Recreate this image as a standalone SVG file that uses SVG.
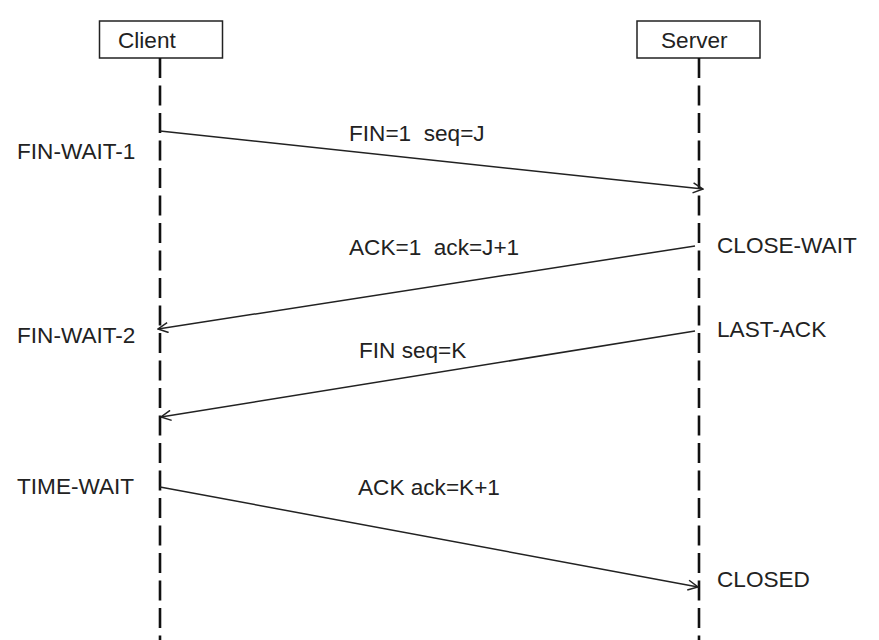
<svg xmlns="http://www.w3.org/2000/svg" width="879" height="640" viewBox="0 0 879 640">
<style>
text{font-family:"Liberation Sans",Arial,sans-serif;font-size:22.6px;fill:#222;white-space:pre}
.box{fill:#fff;stroke:#222;stroke-width:1.5}
.life{stroke:#111;stroke-width:2.6;stroke-dasharray:20 7.5;fill:none}
.msg{stroke:#222;stroke-width:1.5;fill:none;marker-end:url(#arr)}
</style>
<defs>
<marker id="arr" viewBox="0 0 12 12" refX="11" refY="6" markerWidth="12" markerHeight="12" markerUnits="userSpaceOnUse" orient="auto">
<path d="M1,1 L11,6 L1,11" fill="none" stroke="#222" stroke-width="1.5"/>
</marker>
</defs>
<rect width="879" height="640" fill="#fff"/>
<g id="client">
<rect class="box" x="99.5" y="21" width="123" height="37"/>
<text x="118" y="48">Client</text>
<line class="life" x1="160" y1="58" x2="160" y2="640"/>
</g>
<g id="server">
<rect class="box" x="637" y="21" width="123" height="37"/>
<text x="661" y="48">Server</text>
<line class="life" x1="699" y1="58" x2="699" y2="640"/>
</g>
<g id="states">
<text x="17" y="159">FIN-WAIT-1</text>
<text x="17" y="343">FIN-WAIT-2</text>
<text x="17" y="494">TIME-WAIT</text>
<text x="717" y="253">CLOSE-WAIT</text>
<text x="717" y="337">LAST-ACK</text>
<text x="717" y="587">CLOSED</text>
</g>
<g id="connectors">
<line class="msg" x1="160" y1="131" x2="703" y2="189"/>
<line class="msg" x1="695" y1="246" x2="158" y2="329"/>
<line class="msg" x1="695" y1="331" x2="161" y2="417"/>
<line class="msg" x1="160" y1="487" x2="698" y2="587"/>
<text x="349" y="141">FIN=1  seq=J</text>
<text x="349" y="255">ACK=1  ack=J+1</text>
<text x="359" y="358">FIN seq=K</text>
<text x="358" y="495">ACK ack=K+1</text>
</g>
</svg>
